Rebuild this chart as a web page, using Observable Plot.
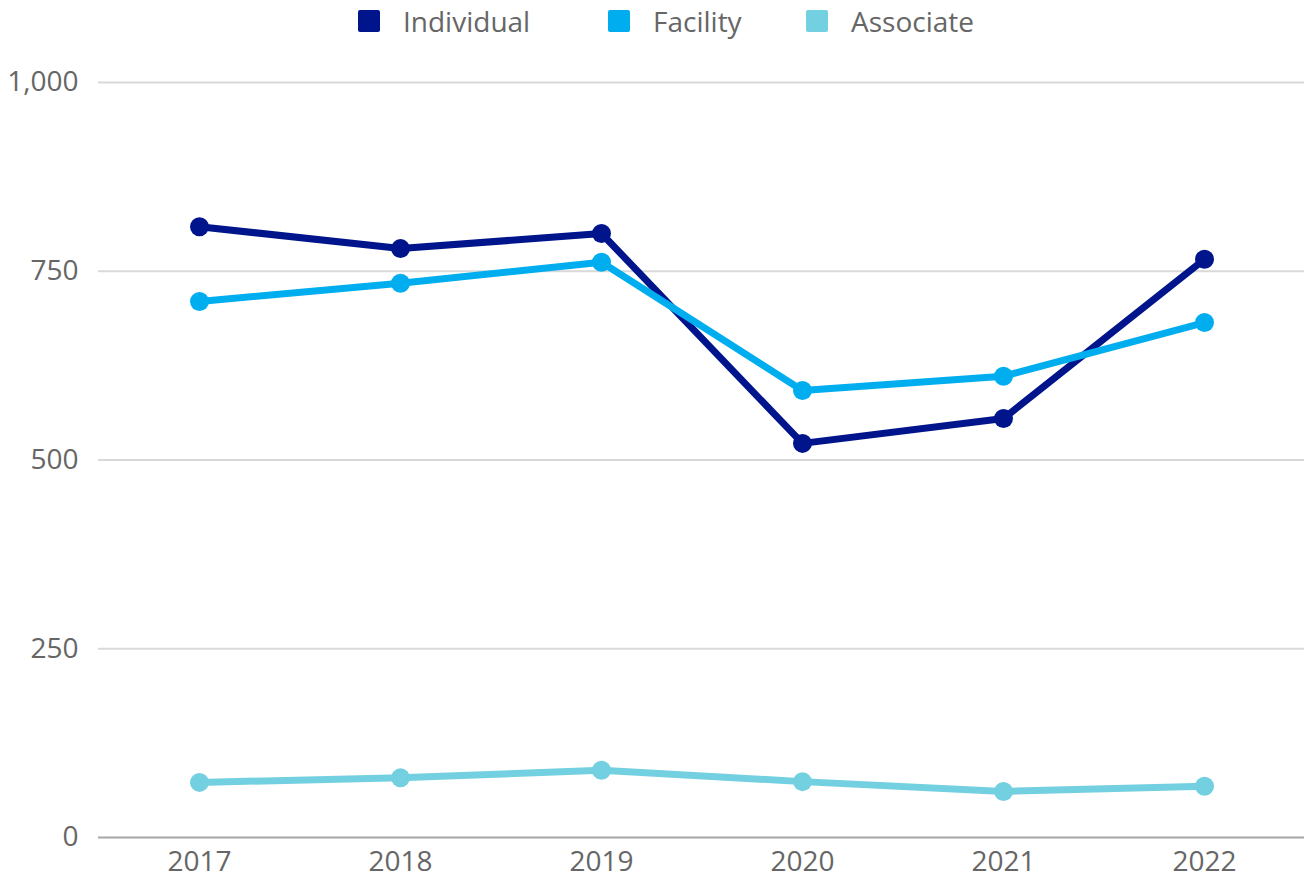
<!DOCTYPE html>
<html>
<head>
<meta charset="utf-8">
<script src="https://cdn.jsdelivr.net/npm/d3@7"></script>
<script src="https://cdn.jsdelivr.net/npm/@observablehq/plot@0.6"></script>
<style>
  body { margin: 0; background: #fff; font-family: "Open Sans", sans-serif; }
  #legend { height: 42px; position: relative; font-size: 28px; color: #666; }
  .item { position: absolute; top: 0; height: 42px; display: flex; align-items: center; }
  .sw { width: 22px; height: 22px; border-radius: 2px; margin-right: 23px; }
  #chart svg { display: block; }
</style>
</head>
<body>
<div id="legend"></div>
<div id="chart"></div>
<script>
const years = ["2017", "2018", "2019", "2020", "2021", "2022"];
const individual = [809, 780, 800, 522, 555, 766];
const facility = [710, 734, 762, 592, 611, 682];
const associate = [73, 79, 89, 74, 61, 68];
const seriesNames = ["Individual", "Facility", "Associate"];
const seriesColors = ["#00148C", "#00AEEF", "#72D0E0"];
const yTicks = [0, 250, 500, 750, 1000];

const seriesValues = [individual, facility, associate];
const data = [];
seriesNames.forEach((name, i) => {
  years.forEach((yr, j) => data.push({ series: name, year: yr, value: seriesValues[i][j] }));
});

// Legend
const legendPos = [358, 608, 806];
const legend = document.getElementById("legend");
seriesNames.forEach((name, i) => {
  const d = document.createElement("div");
  d.className = "item";
  d.style.left = legendPos[i] + "px";
  d.innerHTML = `<div class="sw" style="background:${seriesColors[i]}"></div><span>${name}</span>`;
  legend.appendChild(d);
});

const chart = Plot.plot({
  width: 1304,
  height: 839,
  marginLeft: 98,
  marginRight: 0,
  marginTop: 40,
  marginBottom: 44,
  style: { fontFamily: "Open Sans, sans-serif", fontSize: "28px", color: "#666", background: "#fff", overflow: "visible" },
  x: { type: "point", domain: years, padding: 0.5, label: null, tickSize: 0, tickPadding: 14 },
  y: { domain: [0, 1000], ticks: yTicks, label: null, tickSize: 0, tickPadding: 20, tickFormat: d3.format(",") },
  color: { domain: seriesNames, range: seriesColors },
  marks: [
    Plot.gridY(yTicks.filter(d => d > 0), { stroke: "#d9d9d9", strokeOpacity: 1, strokeWidth: 2 }),
    Plot.ruleY([0], { stroke: "#a6a6a6", strokeWidth: 2 }),
    Plot.line(data, { x: "year", y: "value", z: "series", stroke: "series", strokeWidth: 7 }),
    Plot.dot(data, { x: "year", y: "value", fill: "series", r: 9.5 })
  ]
});
document.getElementById("chart").appendChild(chart);
</script>
</body>
</html>
